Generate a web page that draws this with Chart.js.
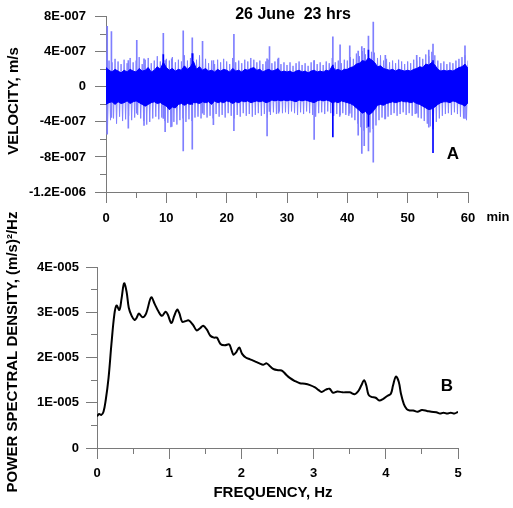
<!DOCTYPE html>
<html>
<head>
<meta charset="utf-8">
<script src="https://cdn.jsdelivr.net/npm/chart.js@4.4.1/dist/chart.umd.min.js"></script>
<style>
html, body { margin: 0; padding: 0; background: #fff; }
#wrap { position: relative; width: 513px; height: 508px; }
canvas { position: absolute; left: 0; top: 0; }
</style>
</head>
<body>
<div id="wrap">
  <canvas id="velChart" width="513" height="508"></canvas>
  <canvas id="psdChart" width="513" height="508"></canvas>
</div>
<script>
const FONT = '"Liberation Sans", Arial, sans-serif';
const AXIS_GREY = '#7a7a7a';

// --- panel A: velocity record, one value every half minute, units of 1E-007 m/s
const halfMinute = 0.5;
const haloTop = [3.8,3.0,2.8,3.2,2.9,2.6,3.1,2.7,3.3,2.8, 3.0,3.4,2.6,3.1,3.3,2.7,3.0,3.5,2.9,3.8,
  3.2,3.0,3.4,2.8,3.1,2.9,3.6,3.0,3.3,3.8, 3.1,3.6,2.9,3.2,2.7,3.0,2.6,3.1,2.8,3.2,
  2.9,2.6,3.3,2.8,3.0,2.7,3.1,2.9,3.3,3.1, 2.8,3.0,2.6,2.9,3.1,2.7,2.9,3.2,2.6,2.8,
  2.5,2.8,2.4,2.7,2.9,2.5,2.7,2.4,2.8,3.0, 2.6,2.8,2.5,2.9,2.7,3.3,2.8,3.0,2.7,3.1,
  3.0,3.4,3.2,3.8,3.5,4.1,3.7,4.3,4.0,3.9, 3.3,3.6,3.0,3.2,2.8,3.0,2.7,3.1,2.9,2.6,
  2.9,2.7,3.1,3.0,3.4,3.2,3.7,3.5,4.0,3.6, 3.0,2.7,2.9,2.6,2.8,2.7,3.0,3.2,3.4,3.6,3.0];
const haloBottom = [-4.5,-3.8,-3.6,-4.2,-3.4,-3.9,-3.7,-3.3,-3.8,-3.5, -3.2,-3.6,-3.9,-4.3,-4.0,-3.6,-3.4,-3.7,-3.5,-3.9,
  -4.1,-4.6,-4.0,-4.3,-3.8,-3.6,-4.0,-3.7,-3.9,-3.5, -3.4,-3.6,-3.2,-3.5,-3.3,-3.6,-3.1,-3.4,-3.2,-3.5,
  -3.0,-3.3,-3.6,-3.2,-3.4,-3.0,-3.3,-3.1,-3.4,-3.2, -3.0,-3.3,-3.1,-3.5,-3.2,-2.9,-3.1,-2.8,-3.0,-2.9,
  -3.1,-2.8,-3.0,-3.2,-2.9,-3.1,-2.8,-3.0,-3.2,-3.4, -3.0,-2.9,-3.1,-2.8,-3.0,-3.3,-3.1,-3.4,-3.0,-3.2,
  -3.3,-3.5,-3.8,-4.2,-4.6,-5.0,-4.7,-5.2,-4.8,-4.4, -3.8,-3.5,-3.7,-3.4,-3.2,-3.0,-3.3,-3.1,-2.9,-3.2,
  -3.0,-3.3,-3.1,-3.5,-3.6,-3.9,-4.2,-4.5,-4.4,-4.0, -3.6,-3.3,-3.1,-3.0,-3.2,-2.9,-3.1,-3.4,-3.6,-3.8,-3.3];
const coreTop = [2.2,1.9,1.7,2.0,1.8,1.6,1.9,1.7,2.0,1.8, 1.7,2.1,1.8,1.9,2.2,1.7,1.9,2.3,2.0,2.8,
  2.2,1.9,2.1,1.8,2.0,1.9,2.4,2.0,2.3,2.9, 2.0,2.3,1.9,2.1,1.8,1.9,1.7,2.0,1.8,2.0,
  1.9,1.7,2.1,1.8,1.9,1.7,2.0,1.9,2.1,2.2, 1.9,2.0,1.7,1.9,2.0,1.8,1.9,2.1,1.7,1.8,
  1.7,1.8,1.6,1.8,1.9,1.7,1.8,1.6,1.8,1.9, 1.7,1.8,1.7,1.9,1.8,2.4,1.9,2.0,1.8,2.0,
  2.0,2.2,2.3,2.6,2.7,3.0,2.9,3.3,3.1,2.8, 2.3,2.4,2.1,2.0,1.9,2.0,1.8,2.0,1.9,1.8,
  1.9,1.8,2.0,2.1,2.3,2.2,2.6,2.5,2.8,2.5, 2.0,1.8,1.9,1.8,1.9,1.8,2.0,2.2,2.3,2.6,2.1];
const coreBottom = [-2.0,-1.8,-1.7,-2.0,-1.7,-1.9,-1.8,-1.6,-1.9,-1.7, -1.6,-1.8,-2.0,-2.2,-2.0,-1.8,-1.7,-1.9,-1.8,-2.0,
  -2.2,-2.6,-2.3,-2.4,-2.0,-1.9,-2.1,-1.9,-2.0,-1.8, -1.8,-1.9,-1.7,-1.8,-1.7,-2.0,-1.6,-1.8,-1.7,-1.8,
  -1.6,-1.7,-1.9,-1.7,-1.8,-1.6,-1.7,-1.6,-1.8,-1.7, -1.6,-1.7,-1.6,-1.8,-1.7,-1.5,-1.6,-1.5,-1.6,-1.5,
  -1.6,-1.5,-1.6,-1.7,-1.5,-1.6,-1.5,-1.6,-1.7,-1.8, -1.6,-1.5,-1.6,-1.5,-1.6,-1.8,-1.7,-1.8,-1.6,-1.7,
  -1.8,-1.9,-2.1,-2.4,-2.7,-3.0,-2.8,-3.2,-3.0,-2.6, -2.1,-2.0,-2.1,-1.9,-1.8,-1.7,-1.8,-1.7,-1.6,-1.7,
  -1.7,-1.8,-1.7,-1.9,-2.0,-2.2,-2.4,-2.6,-2.5,-2.3, -2.0,-1.8,-1.7,-1.7,-1.8,-1.6,-1.7,-1.9,-2.0,-2.2,-1.8];

// isolated spikes (minutes, top, bottom)
const spikeMin    = [0.2, 0.9, 3.7, 5.1, 6.3, 9.5, 9.8, 10.9, 12.8, 14.3, 16.0, 17.8, 21.2, 26.7, 27.1, 28.6, 34.5, 37.6, 38.8, 40.4, 41.8, 42.4, 42.8, 43.5, 44.3, 46.3, 51.5, 53.5, 54.2, 59.5];
const spikeTop    = [6.9, 6.3, 3.0, 5.3, 3.2, 6.1, 3.0, 3.2, 6.4, 5.6, 5.2, 3.0, 6.0, 3.2, 4.6, 3.3, 3.0, 5.7, 4.8, 4.7, 4.1, 4.6, 4.4, 5.8, 7.4, 3.6, 3.6, 4.2, 4.9, 4.7];
const spikeBottom = [-5.4, -3.5, -4.7, -3.0, -4.4, -3.6, -5.1, -4.5, -7.3, -7.1, -3.0, -4.3, -5.0, -5.6, -2.8, -3.0, -6.0, -3.0, -3.2, -3.0, -5.5, -7.6, -6.7, -7.3, -8.6, -3.6, -3.0, -4.6, -4.8, -3.6];
const darkSpikeMin    = [9.5, 14.3, 37.6, 43.5, 54.2];
const darkSpikeTop    = [3.7, 3.8, 2.5, 4.2, 3.0];
const darkSpikeBottom = [-2.0, -2.0, -5.7, -4.5, -7.5];

const velTicks = [-12, -8, -4, 0, 4, 8];
const velTickLabels = ['-1.2E-006', '-8E-007', '-4E-007', '0', '4E-007', '8E-007'];
const velMinorTicks = [-12, -10, -8, -6, -4, -2, 0, 2, 4, 6, 8];
const minuteTicks = [0, 10, 20, 30, 40, 50, 60];
const minuteTickLabels = ['0', '10', '20', '30', '40', '50', '60'];
const minuteMinorTicks = [0, 5, 10, 15, 20, 25, 30, 35, 40, 45, 50, 55, 60];

// --- panel B: power spectral density, units of 1E-005 (m/s)^2/Hz
const freqHz = [0, 0.03, 0.06, 0.09, 0.12, 0.16, 0.2, 0.24, 0.27, 0.31, 0.34, 0.375, 0.41, 0.44, 0.48, 0.52, 0.55, 0.58, 0.63, 0.68,
  0.75, 0.8, 0.85, 0.9, 0.95, 0.98, 1.03, 1.07, 1.11, 1.14, 1.18, 1.22, 1.27, 1.33, 1.38, 1.43, 1.47, 1.52, 1.57, 1.62,
  1.66, 1.71, 1.77, 1.83, 1.86, 1.89, 1.93, 1.97, 2.01, 2.06, 2.12, 2.18, 2.25, 2.3, 2.35, 2.4, 2.45, 2.52, 2.57, 2.62,
  2.67, 2.74, 2.81, 2.88, 2.95, 3.02, 3.07, 3.11, 3.17, 3.22, 3.27, 3.33, 3.4, 3.5, 3.57, 3.62, 3.66, 3.7, 3.73, 3.76,
  3.8, 3.86, 3.91, 3.96, 4.02, 4.07, 4.1, 4.14, 4.18, 4.21, 4.25, 4.29, 4.33, 4.38, 4.44, 4.5, 4.57, 4.63, 4.7, 4.75,
  4.8, 4.85, 4.9, 4.95, 5.0];
const psd = [0.70, 0.75, 0.73, 0.80, 1.05, 1.55, 2.30, 2.95, 3.15, 3.05, 3.30, 3.64, 3.45, 3.10, 2.92, 2.83, 2.88, 2.97, 2.89, 2.97,
  3.33, 3.18, 3.02, 2.92, 3.01, 2.95, 2.76, 2.92, 3.06, 2.98, 2.79, 2.80, 2.82, 2.72, 2.60, 2.65, 2.70, 2.62, 2.48, 2.44,
  2.44, 2.30, 2.27, 2.29, 2.18, 2.06, 2.12, 2.22, 2.08, 2.00, 1.96, 1.92, 1.87, 1.84, 1.87, 1.80, 1.74, 1.72, 1.70, 1.62,
  1.55, 1.48, 1.43, 1.42, 1.39, 1.34, 1.28, 1.24, 1.29, 1.31, 1.22, 1.25, 1.23, 1.23, 1.19, 1.26, 1.38, 1.50, 1.38, 1.18,
  1.13, 1.11, 1.05, 1.08, 1.15, 1.20, 1.38, 1.58, 1.46, 1.20, 0.97, 0.86, 0.83, 0.83, 0.80, 0.84, 0.82, 0.80, 0.79, 0.76,
  0.78, 0.76, 0.78, 0.76, 0.80];

const psdTicks = [0, 1, 2, 3, 4];
const psdTickLabels = ['0', '1E-005', '2E-005', '3E-005', '4E-005'];
const psdMinorTicks = [0, 0.5, 1, 1.5, 2, 2.5, 3, 3.5, 4];
const freqTicks = [0, 1, 2, 3, 4, 5];
const freqTickLabels = ['0', '1', '2', '3', '4', '5'];
const freqMinorTicks = [0, 0.5, 1, 1.5, 2, 2.5, 3, 3.5, 4, 4.5, 5];

// free text on the canvas (titles, panel letters)
const textPlugin = {
  id: 'texts',
  afterDraw(chart, args, opts) {
    const ctx = chart.ctx;
    (opts.items || []).forEach(it => {
      ctx.save();
      ctx.font = 'bold ' + it.size + 'px ' + FONT;
      ctx.fillStyle = '#000';
      ctx.textAlign = 'center';
      ctx.textBaseline = 'middle';
      ctx.translate(it.x, it.y);
      if (it.rotate) ctx.rotate(-Math.PI / 2);
      ctx.fillText(it.text, 0, 0);
      ctx.restore();
    });
  }
};

function majorAxis(axis, position, ticks, labels, min, max, size, pad) {
  return {
    type: 'linear', axis: axis, position: position, min: min, max: max, weight: 1, offset: false,
    afterBuildTicks: s => { s.ticks = ticks.map(v => ({ value: v })); },
    afterFit: s => { if (axis === 'x') s.height = size; else s.width = size; },
    grid: { drawOnChartArea: false, offset: false, tickLength: 11, color: AXIS_GREY, tickColor: AXIS_GREY },
    border: { color: AXIS_GREY, width: 1 },
    ticks: {
      color: '#000', padding: pad, maxRotation: 0, autoSkip: false,
      font: { family: FONT, size: 13, weight: 'bold' },
      callback: v => labels[ticks.indexOf(v)]
    }
  };
}

function minorAxis(axis, position, ticks, min, max) {
  return {
    type: 'linear', axis: axis, position: position, min: min, max: max, weight: 0, offset: false,
    afterBuildTicks: s => { s.ticks = ticks.map(v => ({ value: v })); },
    afterFit: s => { if (axis === 'x') s.height = 0; else s.width = 0; },
    grid: { drawOnChartArea: false, offset: false, tickLength: 6, color: AXIS_GREY, tickColor: AXIS_GREY },
    border: { display: false },
    ticks: { display: false }
  };
}

// spiky outer part: zigzag between the upper and lower excursion of each half minute
function zigzag(top, bottom) {
  const pts = [];
  top.forEach((v, i) => {
    pts.push({ x: i * halfMinute, y: v });
    pts.push({ x: i * halfMinute + halfMinute / 2, y: bottom[i] });
  });
  return pts;
}

function series(values) {
  return values.map((v, i) => ({ x: i * halfMinute, y: v }));
}

function bars(top, bottom, times) {
  return top.map((v, i) => ({ x: times[i], y: [bottom[i], v] }));
}

new Chart(document.getElementById('velChart'), {
  type: 'line',
  data: {
    datasets: [
      { data: series(coreTop), borderColor: '#0000ff', backgroundColor: '#0000ff', borderWidth: 1, pointRadius: 0, tension: 0, fill: '+1', order: 0, clip: 0 },
      { data: series(coreBottom), borderColor: '#0000ff', borderWidth: 1, pointRadius: 0, tension: 0, fill: false, order: 0, clip: 0 },
      { type: 'bar', data: bars(darkSpikeTop, darkSpikeBottom, darkSpikeMin), backgroundColor: '#0000ff', barThickness: 1, grouped: false, order: 1, clip: 0 },
      { type: 'bar', data: bars(spikeTop, spikeBottom, spikeMin), backgroundColor: '#7f7fff', barThickness: 1, grouped: false, order: 2, clip: 0 },
      { data: zigzag(haloTop, haloBottom), borderColor: '#7f7fff', borderWidth: 1, pointRadius: 0, tension: 0, fill: false, order: 3, clip: 0 }
    ]
  },
  options: {
    responsive: false, animation: false, devicePixelRatio: 1,
    layout: { padding: { top: 11, right: 45, bottom: 258, left: 0 } },
    plugins: {
      legend: { display: false }, tooltip: { enabled: false },
      texts: { items: [
        { text: '26 June  23 hrs', x: 293, y: 15, size: 16 },
        { text: 'VELOCITY, m/s', x: 14, y: 101, size: 15, rotate: true },
        { text: 'A', x: 453, y: 154, size: 17 },
        { text: 'min', x: 498, y: 217, size: 13 }
      ] }
    },
    scales: {
      x: majorAxis('x', 'bottom', minuteTicks, minuteTickLabels, 0, 60, 58, 8),
      xm: minorAxis('x', 'bottom', minuteMinorTicks, 0, 60),
      y: majorAxis('y', 'left', velTicks, velTickLabels, -12, 8, 106, 9),
      ym: minorAxis('y', 'left', velMinorTicks, -12, 8)
    }
  },
  plugins: [textPlugin]
});

new Chart(document.getElementById('psdChart'), {
  type: 'line',
  data: {
    datasets: [{
      data: freqHz.map((f, i) => ({ x: f, y: psd[i] })),
      borderColor: '#000', borderWidth: 2, pointRadius: 0, tension: 0.35, fill: false
    }]
  },
  options: {
    responsive: false, animation: false, devicePixelRatio: 1,
    layout: { padding: { top: 267, right: 55, bottom: 0, left: 0 } },
    plugins: {
      legend: { display: false }, tooltip: { enabled: false },
      texts: { items: [
        { text: 'POWER SPECTRAL DENSITY, (m/s)\u00b2/Hz', x: 13, y: 352, size: 15, rotate: true },
        { text: 'FREQUENCY, Hz', x: 273, y: 493, size: 15 },
        { text: 'B', x: 447, y: 386, size: 17 }
      ] }
    },
    scales: {
      x: majorAxis('x', 'bottom', freqTicks, freqTickLabels, 0, 5, 60, 7),
      xm: minorAxis('x', 'bottom', freqMinorTicks, 0, 5),
      y: majorAxis('y', 'left', psdTicks, psdTickLabels, 0, 4, 97, 7),
      ym: minorAxis('y', 'left', psdMinorTicks, 0, 4)
    }
  },
  plugins: [textPlugin]
});
</script>
</body>
</html>
